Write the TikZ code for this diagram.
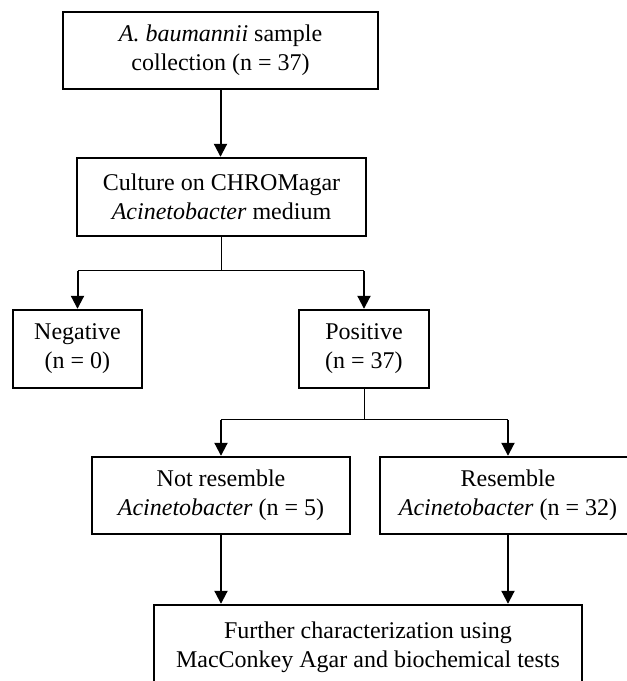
\documentclass[tikz,border=0pt]{standalone}
\usepackage{fontspec}
\setmainfont{Liberation Serif}
\usetikzlibrary{arrows.meta}
\begin{document}
\begin{tikzpicture}[x=0.5pt,y=0.5pt,>={Triangle[length=6.5pt,width=6.5pt]},
	box/.style={draw,line width=1.2pt,align=center,inner sep=2pt,font=\fontsize{12}{14.5}\selectfont},
	arr/.style={->,line width=1pt},
	thinline/.style={line width=0.5pt}]
	\useasboundingbox (0,0) rectangle (627,681);
	\node[box,minimum width=157.5pt,minimum height=38.5pt] (sample) at (220.5,630.5) {\textit{A. baumannii} sample\\collection (n = 37)};
	\node[box,minimum width=144.5pt,minimum height=39pt] (culture) at (221.5,484) {Culture on CHROMagar\\\textit{Acinetobacter} medium};
	\node[box,minimum width=64.5pt,minimum height=39pt] (neg) at (77.5,332) {Negative\\(n = 0)};
	\node[box,minimum width=65pt,minimum height=39pt] (pos) at (364,332) {Positive\\(n = 37)};
	\node[box,minimum width=129pt,minimum height=38.5pt] (notres) at (221,185.5) {Not resemble\\\textit{Acinetobacter} (n = 5)};
	\node[box,minimum width=128pt,minimum height=38.5pt] (res) at (508,185.5) {Resemble\\\textit{Acinetobacter} (n = 32)};
	\node[box,minimum width=214pt,minimum height=42pt] (further) at (368,34) {Further characterization using\\MacConkey Agar and biochemical tests};
	\coordinate (split1) at (221.5,410);
	\coordinate (split2) at (364,261);
	\draw[arr] (sample.south) -- (sample.south |- culture.north);
	\draw[thinline] (culture.south) -- (split1);
	\draw[thinline] (neg.north |- split1) -- (pos.north |- split1);
	\draw[arr] (neg.north |- split1) -- (neg.north);
	\draw[arr] (pos.north |- split1) -- (pos.north);
	\draw[thinline] (pos.south) -- (split2);
	\draw[thinline] (notres.north |- split2) -- (res.north |- split2);
	\draw[arr] (notres.north |- split2) -- (notres.north);
	\draw[arr] (res.north |- split2) -- (res.north);
	\draw[arr] (notres.south) -- (notres.south |- further.north);
	\draw[arr] (res.south) -- (res.south |- further.north);
\end{tikzpicture}
\end{document}
